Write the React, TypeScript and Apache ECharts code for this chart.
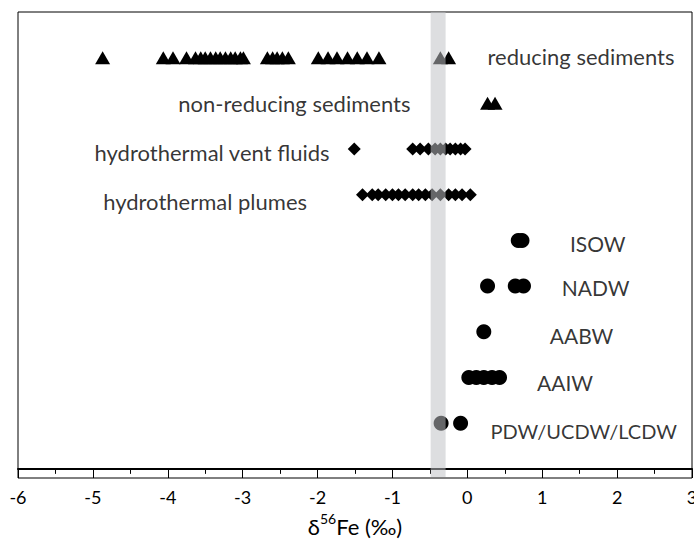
import React, { useEffect, useRef } from "react";
import * as echarts from "echarts";

// δ56Fe values (‰) for each group
const reducingSediments = [-4.87, -4.06, -3.93, -3.75, -3.63, -3.56, -3.5, -3.43, -3.36, -3.3, -3.23, -3.16, -3.1, -3.03, -2.99, -2.67, -2.6, -2.54, -2.47, -2.39, -1.99, -1.86, -1.74, -1.6, -1.47, -1.34, -1.18, -0.36, -0.25];
const nonReducingSediments = [0.27, 0.37];
const hydrothermalVentFluids = [-1.51, -0.73, -0.63, -0.52, -0.43, -0.36, -0.29, -0.23, -0.16, -0.09, -0.03];
const hydrothermalPlumes = [-1.4, -1.27, -1.19, -1.09, -1.0, -0.92, -0.83, -0.73, -0.65, -0.56, -0.47, -0.36, -0.25, -0.16, -0.07, 0.04];
const isow = [0.68, 0.73];
const nadw = [0.27, 0.64, 0.75];
const aabw = [0.22];
const aaiw = [0.02, 0.12, 0.22, 0.33, 0.43];
const pdw = [-0.35, -0.09];

// row positions on the (hidden) vertical axis
const rowReducing = 9;
const rowNonReducing = 8;
const rowVents = 7;
const rowPlumes = 6;
const rowISOW = 5;
const rowNADW = 4;
const rowAABW = 3;
const rowAAIW = 2;
const rowPDW = 1;

// annotation labels
const labelNames = ["reducing sediments", "non-reducing sediments", "hydrothermal vent fluids", "hydrothermal plumes", "ISOW", "NADW", "AABW", "AAIW", "PDW/UCDW/LCDW"];
const labelX = [0.27, -0.76, -1.84, -2.14, 1.37, 1.26, 1.1, 0.93, 0.31];
const labelY = [9.02, 7.99, 6.93, 5.86, 4.94, 3.96, 2.93, 1.88, 0.83];
const labelSide = ["right", "left", "left", "left", "right", "right", "right", "right", "right"];
const labelSize = [22, 22, 22, 22, 21, 21, 21, 21, 20];

// modern seawater band
const bandRange = [-0.49, -0.29];

const xMin = -6;
const xMax = 3;
const xInterval = 1;
const yMin = -0.2;
const yMax = 10;

const FONT = "Lato";

function rowData(values: number[], row: number) {
  return values.map((v) => [v, row]);
}

export default function App() {
  const ref = useRef<HTMLDivElement>(null);
  useEffect(() => {
    if (!ref.current) return;
    const chart = echarts.init(ref.current, undefined, { renderer: "svg" });
    const markerBase = { type: "scatter", z: 2, itemStyle: { color: "#000", opacity: 1 }, silent: true };
    const option = {
      animation: false,
      grid: {
        left: 18, right: 2, top: 12, bottom: 66,
        show: true, borderColor: "#000", borderWidth: 1, backgroundColor: "transparent",
        containLabel: false, outerBoundsMode: "none",
      },
      xAxis: [
        {
          type: "value",
          min: xMin,
          max: xMax,
          interval: xInterval,
          position: "bottom",
          axisLine: { show: true, lineStyle: { color: "#000", width: 2 } },
          axisTick: { show: true, inside: false, length: 6, lineStyle: { color: "#000", width: 1 } },
          minorTick: { show: true, splitNumber: 2, length: 5, lineStyle: { color: "#000", width: 1 } },
          axisLabel: { fontSize: 18, color: "#000", fontFamily: FONT, margin: 10 },
          splitLine: { show: false },
          name: "{a|δ}{s|56}{a|Fe (‰)}",
          nameLocation: "middle",
          nameGap: 33,
          nameTextStyle: {
            rich: {
              a: { fontSize: 22, fontFamily: FONT, color: "#000", lineHeight: 26, verticalAlign: "bottom" },
              s: { fontSize: 14, fontFamily: FONT, color: "#000", lineHeight: 26, verticalAlign: "top" },
            },
          },
        },
        {
          type: "value",
          min: xMin,
          max: xMax,
          interval: xInterval,
          position: "bottom",
          axisLine: { show: false },
          axisTick: { show: true, inside: true, length: 8, lineStyle: { color: "#000", width: 1 } },
          axisLabel: { show: false },
          splitLine: { show: false },
        },
      ],
      yAxis: { type: "value", min: yMin, max: yMax, show: false },
      series: [
        { ...markerBase, name: "reducing sediments", symbol: "triangle", symbolSize: [15, 13], data: rowData(reducingSediments, rowReducing) },
        { ...markerBase, name: "non-reducing sediments", symbol: "triangle", symbolSize: [15, 13], data: rowData(nonReducingSediments, rowNonReducing) },
        { ...markerBase, name: "hydrothermal vent fluids", symbol: "diamond", symbolSize: [13, 13], data: rowData(hydrothermalVentFluids, rowVents) },
        { ...markerBase, name: "hydrothermal plumes", symbol: "diamond", symbolSize: [13, 13], data: rowData(hydrothermalPlumes, rowPlumes) },
        { ...markerBase, name: "ISOW", symbol: "circle", symbolSize: 15, data: rowData(isow, rowISOW) },
        { ...markerBase, name: "NADW", symbol: "circle", symbolSize: 15, data: rowData(nadw, rowNADW) },
        { ...markerBase, name: "AABW", symbol: "circle", symbolSize: 15, data: rowData(aabw, rowAABW) },
        { ...markerBase, name: "AAIW", symbol: "circle", symbolSize: 15, data: rowData(aaiw, rowAAIW) },
        { ...markerBase, name: "PDW", symbol: "circle", symbolSize: 15, data: rowData(pdw, rowPDW) },
        {
          type: "custom",
          name: "band",
          z: 10,
          silent: true,
          data: [bandRange],
          renderItem: (params: any, api: any) => {
            const p0 = api.coord([api.value(0), yMax]);
            const p1 = api.coord([api.value(1), yMin]);
            return {
              type: "rect",
              shape: { x: p0[0], y: p0[1], width: p1[0] - p0[0], height: p1[1] - p0[1] - 1 },
              style: { fill: "rgba(191,192,196,0.53)" },
            };
          },
        },
        {
          type: "scatter",
          name: "labels",
          z: 3,
          silent: true,
          symbolSize: 0,
          data: labelNames.map((n, i) => ({
            name: n,
            value: [labelX[i], labelY[i]],
            label: { position: labelSide[i], distance: 0, fontSize: labelSize[i] },
          })),
          label: {
            show: true,
            formatter: "{b}",
            fontSize: 22,
            fontFamily: FONT,
            color: "#000",
          },
        },
      ],
    };
    chart.setOption(option as any);
    return () => chart.dispose();
  }, []);
  return <div ref={ref} style={{ position: "absolute", left: 0, top: 0, width: 694, height: 544 }} />;
}
